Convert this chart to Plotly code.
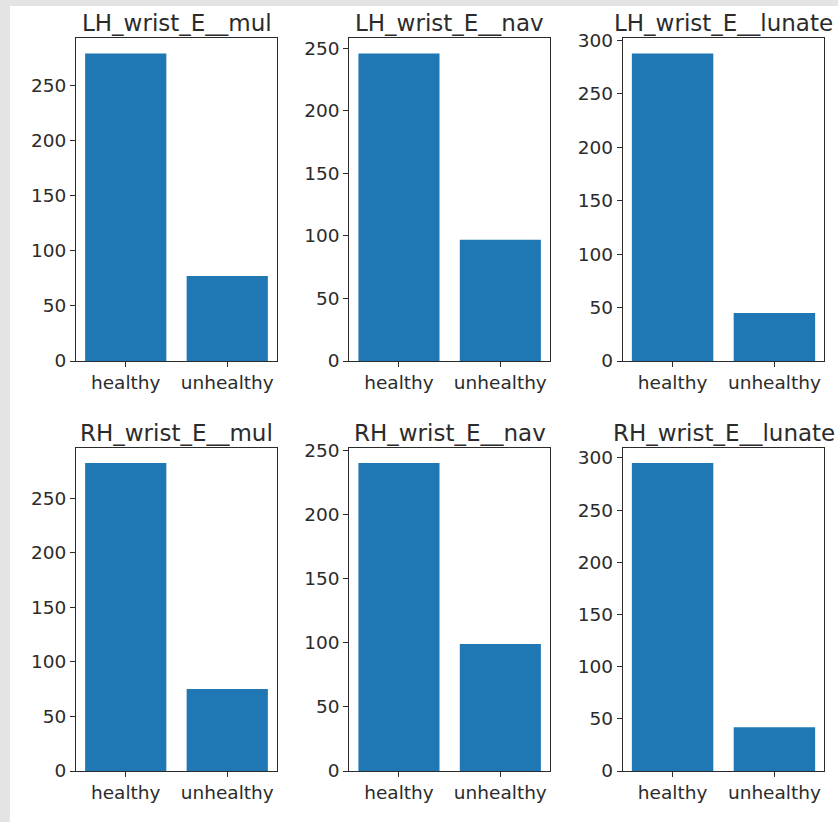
import plotly.graph_objects as go

categories = ["healthy", "unhealthy"]
titles = ["LH_wrist_E__mul", "LH_wrist_E__nav", "LH_wrist_E__lunate",
          "RH_wrist_E__mul", "RH_wrist_E__nav", "RH_wrist_E__lunate"]
lh_mul = [279, 77]
lh_nav = [246, 97]
lh_lunate = [288, 45]
rh_mul = [282, 75]
rh_nav = [240, 99]
rh_lunate = [295, 42]
series = [lh_mul, lh_nav, lh_lunate, rh_mul, rh_nav, rh_lunate]

W, H = 838, 822
col_px = [(76, 277), (349.3, 550), (622.7, 824.3)]
row_px = [(38, 361), (447.7, 771)]

BLUE = "#1f77b4"
DARK = "#2b2b2b"
FONT = "DejaVu Sans"

fig = go.Figure()
annotations = []
for i, (vals, title) in enumerate(zip(series, titles)):
    r, c = divmod(i, 3)
    n = i + 1
    xa = "x" if n == 1 else f"x{n}"
    ya = "y" if n == 1 else f"y{n}"
    fig.add_trace(go.Bar(x=categories, y=vals, width=0.8, marker=dict(color=BLUE, line=dict(width=0)),
                         xaxis=xa, yaxis=ya, showlegend=False, hoverinfo="skip"))
    x0, x1 = col_px[c]
    y0, y1 = row_px[r]
    xdom = [x0 / W, x1 / W]
    ydom = [1 - y1 / H, 1 - y0 / H]
    axcommon = dict(showline=True, mirror=True, linecolor=DARK, linewidth=1,
                    ticks="outside", ticklen=5, tickwidth=1, tickcolor=DARK,
                    showgrid=False, zeroline=False, automargin=False,
                    tickfont=dict(family=FONT, size=18.5, color=DARK))
    fig.layout[("xaxis" if n == 1 else f"xaxis{n}")] = dict(
        domain=xdom, anchor=ya, type="category", range=[-0.49, 1.49], **axcommon)
    fig.layout[("yaxis" if n == 1 else f"yaxis{n}")] = dict(
        domain=ydom, anchor=xa, range=[0, max(vals) * 1.05], dtick=50, **axcommon)
    annotations.append(dict(text=title, x=(xdom[0] + xdom[1]) / 2, y=ydom[1],
                            xref="paper", yref="paper", xanchor="center", yanchor="bottom",
                            yshift=0, showarrow=False,
                            font=dict(family=FONT, size=23, color=DARK)))

fig.update_layout(
    width=W, height=H, margin=dict(l=0, r=0, t=0, b=0, autoexpand=False),
    paper_bgcolor="#e4e4e4", plot_bgcolor="white",
    annotations=annotations,
    shapes=[dict(type="rect", xref="paper", yref="paper", x0=10 / W, x1=1, y0=0, y1=1 - 6 / H,
                 fillcolor="white", line=dict(width=0), layer="below")],
    font=dict(family=FONT, color=DARK),
)
fig.write_html("out.html", config={"displayModeBar": False},
               post_script="document.body.style.margin='0';document.body.style.overflow='hidden';")
